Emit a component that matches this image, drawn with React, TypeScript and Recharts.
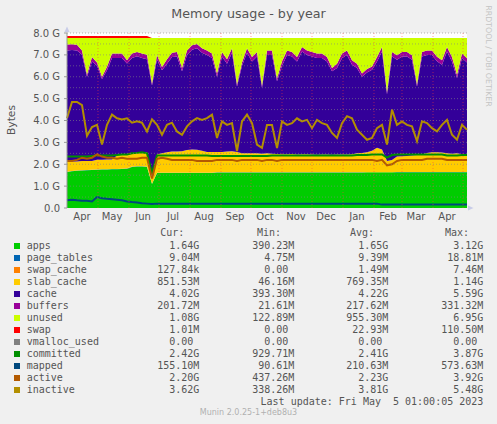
import React from "react";
import {
  ComposedChart,
  Area,
  Line,
  XAxis,
  YAxis,
  ReferenceLine,
  CartesianGrid,
} from "recharts";

// day offset from 31 Mar 2022, one sample every 5 days, values in GB
const days = [
  0, 5, 10, 15, 20, 25, 30, 35, 40, 45, 50, 55, 60, 65, 70, 75, 80, 85, 90, 95,
  100, 105, 110, 115, 120, 125, 130, 135, 140, 145, 150, 155, 160, 165, 170, 175, 180, 185, 190, 195,
  200, 205, 210, 215, 220, 225, 230, 235, 240, 245, 250, 255, 260, 265, 270, 275, 280, 285, 290, 295,
  300, 305, 310, 315, 320, 325, 330, 335, 340, 345, 350, 355, 360, 365, 370, 375, 380, 385, 390, 395,
  400,
];

const apps = [
  1.65, 1.68, 1.70, 1.72, 1.73, 1.74, 1.75, 1.76, 1.76, 1.77, 1.77, 1.78, 1.80, 1.88, 1.90, 1.90, 1.88, 1.10, 1.60, 1.60,
  1.60, 1.60, 1.60, 1.60, 1.60, 1.60, 1.60, 1.60, 1.60, 1.60, 1.62, 1.62, 1.62, 1.62, 1.62, 1.62, 1.62, 1.62, 1.62, 1.62,
  1.62, 1.62, 1.62, 1.62, 1.62, 1.62, 1.62, 1.62, 1.62, 1.62, 1.62, 1.62, 1.62, 1.62, 1.62, 1.62, 1.62, 1.62, 1.62, 1.62,
  1.63, 1.63, 1.63, 1.63, 1.63, 1.63, 1.64, 1.64, 1.64, 1.64, 1.64, 1.64, 1.64, 1.64, 1.64, 1.64, 1.64, 1.64, 1.64, 1.64,
  1.64,
];

const pageTables = [
  0.009, 0.009, 0.009, 0.009, 0.009, 0.009, 0.010, 0.010, 0.010, 0.010, 0.010, 0.010, 0.010, 0.010, 0.010, 0.010, 0.010, 0.006, 0.009, 0.009,
  0.009, 0.009, 0.009, 0.009, 0.009, 0.009, 0.009, 0.009, 0.009, 0.009, 0.009, 0.009, 0.009, 0.009, 0.009, 0.009, 0.009, 0.009, 0.009, 0.009,
  0.009, 0.009, 0.009, 0.009, 0.009, 0.009, 0.009, 0.009, 0.009, 0.009, 0.009, 0.009, 0.009, 0.009, 0.009, 0.009, 0.009, 0.009, 0.009, 0.009,
  0.009, 0.009, 0.009, 0.009, 0.009, 0.009, 0.009, 0.009, 0.009, 0.009, 0.009, 0.009, 0.009, 0.009, 0.009, 0.009, 0.009, 0.009, 0.009, 0.009,
  0.009,
];

const swapCache = [
  0.002, 0.002, 0.002, 0.002, 0.002, 0.002, 0.002, 0.002, 0.002, 0.002, 0.002, 0.002, 0.002, 0.002, 0.002, 0.002, 0.002, 0.001, 0.001, 0.001,
  0.001, 0.001, 0.001, 0.001, 0.001, 0.001, 0.001, 0.001, 0.001, 0.001, 0.001, 0.001, 0.001, 0.001, 0.001, 0.001, 0.001, 0.001, 0.001, 0.001,
  0.001, 0.001, 0.001, 0.001, 0.001, 0.001, 0.001, 0.001, 0.001, 0.001, 0.001, 0.001, 0.001, 0.001, 0.001, 0.001, 0.001, 0.001, 0.001, 0.001,
  0.001, 0.001, 0.001, 0.001, 0.001, 0.001, 0.001, 0.001, 0.001, 0.001, 0.001, 0.001, 0.001, 0.001, 0.001, 0.001, 0.001, 0.001, 0.001, 0.001,
  0.001,
];

const slabCache = [
  0.46, 0.43, 0.42, 0.42, 0.41, 0.40, 0.44, 0.43, 0.45, 0.44, 0.62, 0.66, 0.64, 0.61, 0.61, 0.64, 0.66, 0.39, 0.84, 0.89,
  0.94, 0.97, 0.97, 0.99, 1.04, 1.06, 1.05, 1.01, 0.95, 0.95, 0.93, 0.93, 0.95, 0.97, 0.93, 0.87, 0.87, 0.87, 0.87, 0.85,
  0.87, 0.85, 0.84, 0.83, 0.83, 0.84, 0.82, 0.83, 0.83, 0.82, 0.81, 0.82, 0.82, 0.81, 0.82, 0.82, 0.82, 0.83, 0.87, 0.89,
  0.91, 0.98, 1.11, 1.04, 0.51, 0.56, 0.71, 0.72, 0.73, 0.75, 0.77, 0.80, 0.87, 0.90, 0.90, 0.89, 0.85, 0.83, 0.85, 0.81,
  0.80,
];

const cache = [
  5.08, 5.10, 5.07, 4.85, 3.85, 4.55, 4.30, 3.70, 4.08, 4.64, 4.46, 4.41, 4.15, 4.36, 4.41, 4.31, 4.25, 4.10, 4.35, 3.80,
  4.05, 4.32, 4.35, 3.65, 4.35, 4.57, 4.64, 4.48, 4.44, 4.30, 3.44, 4.37, 4.02, 4.50, 3.00, 4.00, 4.60, 4.20, 4.43, 3.02,
  4.50, 4.52, 3.33, 4.04, 4.54, 4.46, 4.25, 4.70, 4.54, 4.48, 4.42, 4.41, 4.25, 3.81, 3.95, 4.41, 4.55, 4.09, 3.90, 3.48,
  3.65, 3.70, 3.95, 4.48, 3.05, 4.73, 4.42, 4.56, 4.55, 4.38, 3.14, 4.48, 4.48, 4.45, 4.16, 4.01, 4.66, 4.22, 3.44, 4.40,
  4.20,
];

const buffers = [
  0.27, 0.27, 0.26, 0.20, 0.10, 0.20, 0.15, 0.10, 0.15, 0.20, 0.20, 0.20, 0.15, 0.20, 0.20, 0.20, 0.20, 0.10, 0.20, 0.15,
  0.20, 0.20, 0.20, 0.15, 0.20, 0.20, 0.20, 0.20, 0.20, 0.20, 0.15, 0.20, 0.20, 0.20, 0.10, 0.15, 0.20, 0.20, 0.20, 0.10,
  0.20, 0.20, 0.12, 0.20, 0.20, 0.20, 0.20, 0.20, 0.20, 0.20, 0.20, 0.20, 0.20, 0.15, 0.20, 0.20, 0.20, 0.20, 0.20, 0.15,
  0.15, 0.15, 0.20, 0.20, 0.10, 0.20, 0.20, 0.20, 0.20, 0.20, 0.10, 0.20, 0.20, 0.20, 0.20, 0.20, 0.20, 0.20, 0.15, 0.20,
  0.20,
];

const unused = [
  0.30, 0.28, 0.31, 0.57, 1.67, 0.87, 1.12, 1.77, 1.32, 0.71, 0.71, 0.71, 1.02, 0.71, 0.64, 0.71, 0.77, 2.07, 0.77, 1.32,
  0.97, 0.67, 0.64, 1.37, 0.57, 0.33, 0.27, 0.47, 0.57, 0.71, 1.62, 0.64, 0.97, 0.47, 2.11, 1.12, 0.47, 0.87, 0.64, 2.17,
  0.57, 0.57, 1.85, 1.07, 0.57, 0.64, 0.87, 0.41, 0.57, 0.64, 0.71, 0.71, 0.87, 1.37, 1.17, 0.71, 0.57, 1.02, 1.17, 1.62,
  1.42, 1.30, 0.87, 0.41, 2.47, 0.64, 0.79, 0.64, 0.64, 0.79, 2.11, 0.64, 0.57, 0.57, 0.86, 1.02, 0.41, 0.87, 1.68, 0.71,
  0.92,
];

const swap = [
  0.09, 0.09, 0.09, 0.09, 0.09, 0.09, 0.09, 0.09, 0.09, 0.09, 0.09, 0.09, 0.09, 0.09, 0.09, 0.09, 0.09, 0, 0, 0,
  0, 0, 0, 0, 0, 0, 0, 0, 0, 0, 0, 0, 0, 0, 0, 0, 0, 0, 0, 0,
  0, 0, 0, 0, 0, 0, 0, 0, 0, 0, 0, 0, 0, 0, 0, 0, 0, 0, 0, 0,
  0, 0, 0, 0, 0, 0, 0, 0, 0, 0, 0, 0, 0, 0, 0, 0, 0, 0, 0, 0,
  0,
];

const committed = [
  2.35, 2.35, 2.35, 2.35, 2.35, 2.38, 2.40, 2.40, 2.40, 2.40, 2.42, 2.45, 2.45, 2.50, 2.52, 2.55, 2.50, 1.60, 2.40, 2.40,
  2.40, 2.40, 2.40, 2.40, 2.40, 2.40, 2.40, 2.40, 2.40, 2.38, 2.38, 2.38, 2.38, 2.38, 2.38, 2.38, 2.38, 2.38, 2.38, 2.38,
  2.38, 2.40, 2.40, 2.40, 2.40, 2.40, 2.40, 2.40, 2.40, 2.40, 2.40, 2.40, 2.40, 2.40, 2.40, 2.40, 2.40, 2.40, 2.42, 2.42,
  2.42, 2.45, 2.45, 2.45, 2.30, 2.42, 2.45, 2.45, 2.45, 2.45, 2.45, 2.45, 2.45, 2.45, 2.45, 2.45, 2.40, 2.40, 2.40, 2.42,
  2.42,
];

const mapped = [
  0.35, 0.38, 0.35, 0.33, 0.33, 0.30, 0.50, 0.45, 0.42, 0.40, 0.38, 0.35, 0.30, 0.27, 0.25, 0.22, 0.20, 0.18, 0.20, 0.20,
  0.20, 0.20, 0.20, 0.20, 0.20, 0.20, 0.20, 0.20, 0.20, 0.20, 0.20, 0.20, 0.20, 0.20, 0.20, 0.20, 0.20, 0.20, 0.20, 0.20,
  0.20, 0.20, 0.20, 0.20, 0.20, 0.20, 0.20, 0.20, 0.20, 0.20, 0.20, 0.20, 0.20, 0.20, 0.20, 0.20, 0.20, 0.20, 0.20, 0.20,
  0.20, 0.20, 0.20, 0.155, 0.155, 0.155, 0.155, 0.155, 0.155, 0.155, 0.155, 0.155, 0.155, 0.155, 0.155, 0.155, 0.155, 0.155, 0.155, 0.155,
  0.155,
];

const active = [
  2.15, 2.15, 2.20, 2.30, 2.25, 2.30, 2.45, 2.35, 2.30, 2.30, 2.25, 2.30, 2.25, 2.25, 2.25, 2.30, 2.30, 1.35, 2.25, 2.30,
  2.25, 2.20, 2.20, 2.20, 2.20, 2.20, 2.15, 2.15, 2.15, 2.15, 2.20, 2.20, 2.20, 2.20, 2.15, 2.20, 2.20, 2.20, 2.20, 2.15,
  2.20, 2.20, 2.15, 2.20, 2.20, 2.20, 2.20, 2.20, 2.20, 2.20, 2.20, 2.20, 2.20, 2.20, 2.20, 2.20, 2.20, 2.20, 2.20, 2.20,
  2.20, 2.20, 2.15, 2.20, 1.95, 2.00, 2.15, 2.20, 2.20, 2.20, 2.20, 2.20, 2.25, 2.25, 2.25, 2.25, 2.20, 2.20, 2.20, 2.20,
  2.20,
];

const inactive = [
  4.10, 4.85, 4.85, 4.70, 3.30, 3.70, 3.80, 2.90, 3.80, 4.27, 4.10, 4.05, 4.10, 3.90, 3.96, 3.90, 3.50, 4.05, 3.80, 3.35,
  3.80, 3.90, 3.50, 3.35, 3.73, 3.96, 4.11, 4.03, 4.11, 4.27, 3.20, 3.96, 3.80, 3.88, 2.60, 3.96, 4.27, 3.88, 2.90, 2.75,
  3.80, 3.80, 2.74, 3.96, 3.80, 3.88, 4.10, 3.96, 4.03, 3.65, 4.03, 3.88, 3.80, 3.43, 3.20, 3.88, 4.20, 4.10, 3.58, 3.35,
  3.12, 3.20, 3.65, 3.80, 2.90, 4.50, 3.80, 3.96, 3.80, 3.73, 3.05, 3.96, 3.88, 3.65, 3.50, 3.80, 4.03, 3.35, 3.12, 3.80,
  3.58,
];

const monthStarts = [31, 62, 92, 123, 154, 184, 215, 245, 276, 307, 335, 366, 396];
const monthMids = [15, 45, 76, 106, 137, 168, 198, 229, 259, 290, 321, 349, 380];
const monthNames = ["Apr", "May", "Jun", "Jul", "Aug", "Sep", "Oct", "Nov", "Dec", "Jan", "Feb", "Mar", "Apr"];
const yTicks = [0, 1, 2, 3, 4, 5, 6, 7, 8];
const yGrid = [0.5, 1, 1.5, 2, 2.5, 3, 3.5, 4, 4.5, 5, 5.5, 6, 6.5, 7, 7.5, 8];

const seriesNames = [
  "apps", "page_tables", "swap_cache", "slab_cache", "cache", "buffers", "unused",
  "swap", "vmalloc_used", "committed", "mapped", "active", "inactive",
];
const seriesColors = [
  "#00CC00", "#0066B3", "#FF8000", "#FFCC00", "#330099", "#990099", "#CCFF00",
  "#FF0000", "#808080", "#008F00", "#00487D", "#B35A00", "#B38F00",
];
const curVals = ["1.64G", "9.04M", "127.84k", "851.53M", "4.02G", "201.72M", "1.08G", "1.01M", "0.00", "2.42G", "155.10M", "2.20G", "3.62G"];
const minVals = ["390.23M", "4.75M", "0.00", "46.16M", "393.30M", "21.61M", "122.89M", "0.00", "0.00", "929.71M", "90.61M", "437.26M", "338.26M"];
const avgVals = ["1.65G", "9.39M", "1.49M", "769.35M", "4.22G", "217.62M", "955.30M", "22.93M", "0.00", "2.41G", "210.63M", "2.23G", "3.81G"];
const maxVals = ["3.12G", "18.81M", "7.46M", "1.14G", "5.59G", "331.32M", "6.95G", "110.50M", "0.00", "3.87G", "573.63M", "3.92G", "5.48G"];

const rows = days.map((day, i) => ({
  day,
  apps: apps[i],
  page_tables: pageTables[i],
  swap_cache: swapCache[i],
  slab_cache: slabCache[i],
  cache: cache[i],
  buffers: buffers[i],
  unused: unused[i],
  swap: swap[i],
  committed: committed[i],
  mapped: mapped[i],
  active: active[i],
  inactive: inactive[i],
}));

const stacked = ["apps", "page_tables", "swap_cache", "slab_cache", "cache", "buffers", "unused", "swap"];
const lines = ["committed", "mapped", "active", "inactive"];

const colorOf = (key: string) => seriesColors[seriesNames.indexOf(key)];
const fmtY = (v: number) => (v === 0 ? "0.0" : `${v.toFixed(1)} G`);
const fmtMonth = (d: number) => monthNames[monthMids.indexOf(d)] ?? "";
const pad = (s: string) => (/[0-9]$/.test(s) ? s + " " : s);

const mono = "'DejaVu Sans Mono', monospace";
const sans = "'DejaVu Sans', sans-serif";
const textColor = "#555";

const Cell = ({ text, right, y }: { text: string; right: number; y: number }) => (
  <div
    style={{
      position: "absolute",
      right: 497 - right,
      top: y - 6,
      height: 12,
      lineHeight: "12px",
      whiteSpace: "pre",
      fontFamily: mono,
      fontSize: 10,
      color: textColor,
    }}
  >
    {text}
  </div>
);

export default function App() {
  return (
    <div
      style={{
        position: "absolute",
        left: 0,
        top: 0,
        width: 497,
        height: 424,
        background: "#f0f0f0",
        overflow: "hidden",
      }}
    >
      <div style={{ position: "absolute", left: 0, top: 0 }}>
        <ComposedChart
          width={497}
          height={424}
          data={rows}
          margin={{ top: 33, right: 30, bottom: 196, left: 0 }}
        >
          <CartesianGrid xAxisId="grid" horizontal={false} vertical={false} fill="#ffffff" />
          <XAxis
            xAxisId="grid"
            dataKey="day"
            type="number"
            domain={[0, 400]}
            ticks={monthStarts}
            tick={false}
            tickSize={3}
            tickLine={{ stroke: "#ff6060" }}
            axisLine={{ stroke: "#999" }}
            height={0}
          />
          <XAxis
            xAxisId="lab"
            dataKey="day"
            type="number"
            domain={[0, 400]}
            ticks={monthMids}
            tickFormatter={fmtMonth}
            tickLine={false}
            axisLine={false}
            tickSize={3}
            tickMargin={2}
            interval={0}
            height={20}
            tick={{ fontSize: 10, fill: textColor, fontFamily: sans }}
          />
          <YAxis
            width={67}
            domain={[0, 8]}
            ticks={yTicks}
            tickFormatter={fmtY}
            tickSize={3}
            tickMargin={4}
            interval={0}
            allowDataOverflow
            axisLine={{ stroke: "#999" }}
            tickLine={{ stroke: "#999" }}
            tick={{ fontSize: 10, fill: textColor, fontFamily: sans }}
          />
          {stacked.map((k) => (
            <Area
              key={k}
              xAxisId="grid"
              dataKey={k}
              stackId="mem"
              type="linear"
              stroke="none"
              fill={colorOf(k)}
              fillOpacity={1}
              isAnimationActive={false}
            />
          ))}
          {lines.map((k) => (
            <Line
              key={k}
              xAxisId="grid"
              dataKey={k}
              type="linear"
              stroke={colorOf(k)}
              strokeWidth={2}
              dot={false}
              isAnimationActive={false}
            />
          ))}
          {yGrid.map((v) => (
            <ReferenceLine
              key={"h" + v}
              xAxisId="grid"
              y={v}
              stroke="rgba(130,130,130,0.6)"
              strokeDasharray="1 2"
            />
          ))}
          {monthStarts.map((d) => (
            <ReferenceLine
              key={"v" + d}
              xAxisId="grid"
              x={d}
              stroke="rgba(255,60,60,0.5)"
              strokeDasharray="1 2"
            />
          ))}
        </ComposedChart>
      </div>

      <svg width={497} height={424} style={{ position: "absolute", left: 0, top: 0, pointerEvents: "none" }}>
        <text x={248.5} y={18} textAnchor="middle" fontFamily={sans} fontSize={12.7} fill={textColor}>
          Memory usage - by year
        </text>
        <text
          x={11}
          y={120}
          transform="rotate(-90 11 120)"
          textAnchor="middle"
          dominantBaseline="central"
          fontFamily={sans}
          fontSize={10.7}
          fill={textColor}
        >
          Bytes
        </text>
        <text
          x={488}
          y={56}
          transform="rotate(90 488 56)"
          textAnchor="middle"
          dominantBaseline="central"
          fontFamily={sans}
          fontSize={7.9}
          fill="#c4c4c4"
        >
          RRDTOOL / TOBI OETIKER
        </text>
        <polygon points="64.5,32 69.5,32 67,26.5" fill="#c8cce8" />
        <polygon points="468,205.5 468,210.5 473.5,208" fill="#c8cce8" />
      </svg>

      <Cell text="Cur:" right={184.3} y={233.3} />
      <Cell text="Min:" right={281} y={233.3} />
      <Cell text="Avg:" right={374} y={233.3} />
      <Cell text="Max:" right={469} y={233.3} />

      {seriesNames.map((name, i) => {
        const y = 245.7 + i * 12;
        return (
          <React.Fragment key={name}>
            <div
              style={{
                position: "absolute",
                left: 14,
                top: y - 3,
                width: 6,
                height: 6,
                background: seriesColors[i],
              }}
            />
            <div
              style={{
                position: "absolute",
                left: 26.7,
                top: y - 6,
                height: 12,
                lineHeight: "12px",
                whiteSpace: "pre",
                fontFamily: mono,
                fontSize: 10,
                color: textColor,
              }}
            >
              {name}
            </div>
            <Cell text={pad(curVals[i])} right={199.3} y={y} />
            <Cell text={pad(minVals[i])} right={294.3} y={y} />
            <Cell text={pad(avgVals[i])} right={388.3} y={y} />
            <Cell text={pad(maxVals[i])} right={483.3} y={y} />
          </React.Fragment>
        );
      })}

      <Cell text="Last update: Fri May  5 01:00:05 2023" right={483.3} y={401.7} />
      <div
        style={{
          position: "absolute",
          left: 0,
          width: 497,
          top: 412.7 - 5,
          height: 10,
          lineHeight: "10px",
          textAlign: "center",
          fontFamily: sans,
          fontSize: 8,
          color: "#b0b0b0",
        }}
      >
        Munin 2.0.25-1+deb8u3
      </div>
    </div>
  );
}
